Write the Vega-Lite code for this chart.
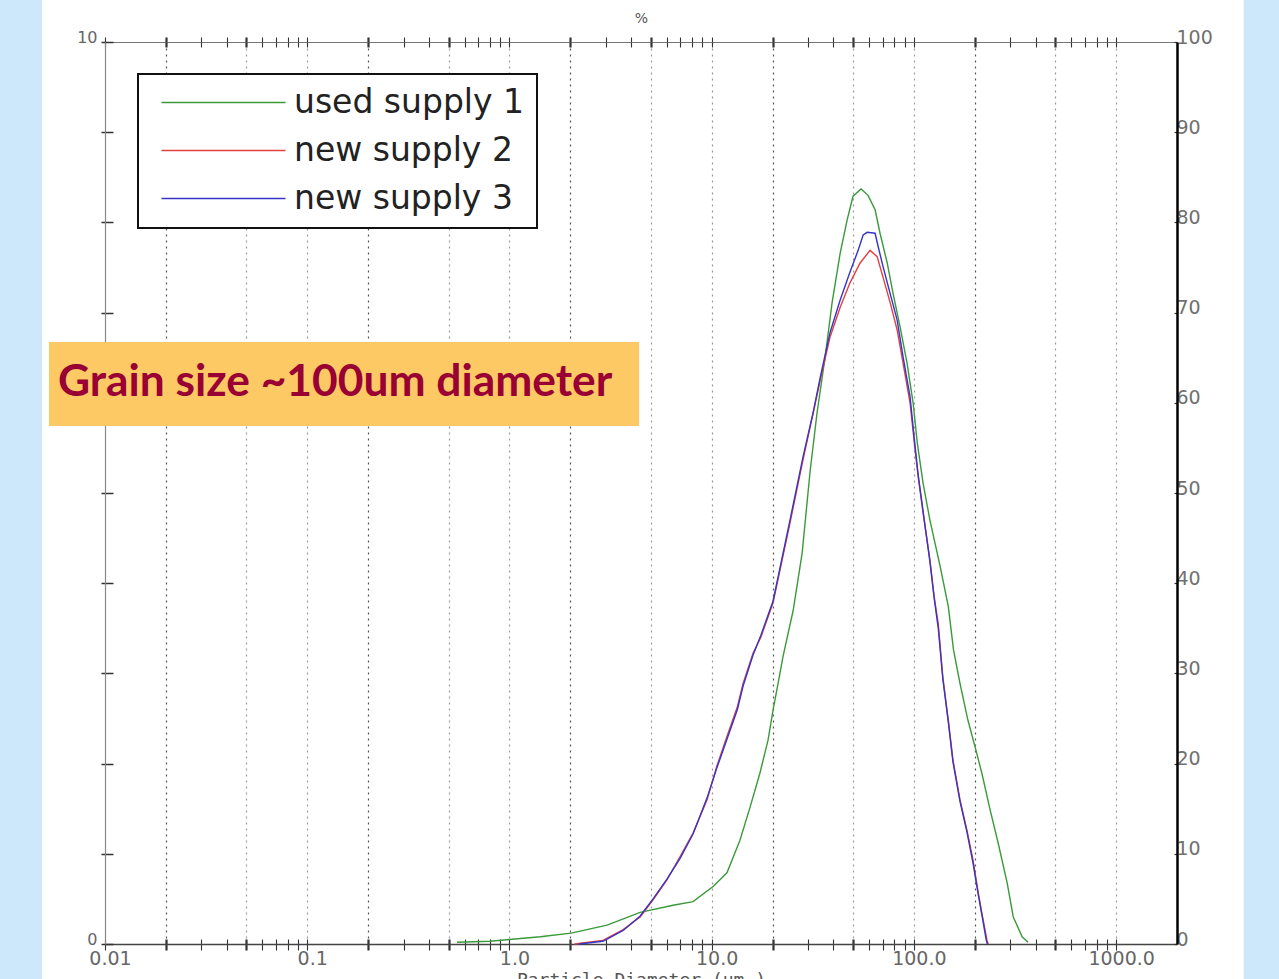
{
  "$schema": "https://vega.github.io/schema/vega-lite/v6.json",
  "width": 1072,
  "height": 902,
  "autosize": {"type": "none"},
  "padding": {"left": 105, "top": 42, "right": 102, "bottom": 35},
  "background": "white",
  "config": {"view": {"stroke": null}, "font": "DejaVu Sans"},
  "datasets": {
    "note": [{"note": "Grain size ~100um diameter"}],
    "psd": [
      {"s": "used supply 1", "d": 0.55, "v": 0.02},
      {"s": "used supply 1", "d": 0.8, "v": 0.03},
      {"s": "used supply 1", "d": 1.0, "v": 0.05},
      {"s": "used supply 1", "d": 1.42, "v": 0.08},
      {"s": "used supply 1", "d": 2.02, "v": 0.12},
      {"s": "used supply 1", "d": 3.04, "v": 0.21},
      {"s": "used supply 1", "d": 4.43, "v": 0.35},
      {"s": "used supply 1", "d": 6.44, "v": 0.43},
      {"s": "used supply 1", "d": 8.09, "v": 0.47},
      {"s": "used supply 1", "d": 10.2, "v": 0.64},
      {"s": "used supply 1", "d": 11.9, "v": 0.79},
      {"s": "used supply 1", "d": 13.8, "v": 1.15},
      {"s": "used supply 1", "d": 15.5, "v": 1.52},
      {"s": "used supply 1", "d": 17.3, "v": 1.89},
      {"s": "used supply 1", "d": 19.0, "v": 2.26},
      {"s": "used supply 1", "d": 20.1, "v": 2.59},
      {"s": "used supply 1", "d": 21.3, "v": 2.89},
      {"s": "used supply 1", "d": 22.5, "v": 3.18},
      {"s": "used supply 1", "d": 25.3, "v": 3.70},
      {"s": "used supply 1", "d": 28.0, "v": 4.33},
      {"s": "used supply 1", "d": 30.7, "v": 5.25},
      {"s": "used supply 1", "d": 33.2, "v": 5.89},
      {"s": "used supply 1", "d": 36.4, "v": 6.51},
      {"s": "used supply 1", "d": 39.4, "v": 7.11},
      {"s": "used supply 1", "d": 43.2, "v": 7.66},
      {"s": "used supply 1", "d": 46.8, "v": 8.03},
      {"s": "used supply 1", "d": 50.0, "v": 8.29},
      {"s": "used supply 1", "d": 54.8, "v": 8.37},
      {"s": "used supply 1", "d": 59.3, "v": 8.30},
      {"s": "used supply 1", "d": 64.3, "v": 8.14},
      {"s": "used supply 1", "d": 68.0, "v": 7.88},
      {"s": "used supply 1", "d": 73.8, "v": 7.55},
      {"s": "used supply 1", "d": 78.9, "v": 7.21},
      {"s": "used supply 1", "d": 85.5, "v": 6.84},
      {"s": "used supply 1", "d": 92.5, "v": 6.44},
      {"s": "used supply 1", "d": 99.1, "v": 6.00},
      {"s": "used supply 1", "d": 104, "v": 5.55},
      {"s": "used supply 1", "d": 111, "v": 5.11},
      {"s": "used supply 1", "d": 120, "v": 4.70},
      {"s": "used supply 1", "d": 135, "v": 4.18},
      {"s": "used supply 1", "d": 148, "v": 3.74},
      {"s": "used supply 1", "d": 157, "v": 3.26},
      {"s": "used supply 1", "d": 169, "v": 2.89},
      {"s": "used supply 1", "d": 185, "v": 2.48},
      {"s": "used supply 1", "d": 201, "v": 2.18},
      {"s": "used supply 1", "d": 217, "v": 1.89},
      {"s": "used supply 1", "d": 238, "v": 1.49},
      {"s": "used supply 1", "d": 261, "v": 1.12},
      {"s": "used supply 1", "d": 289, "v": 0.68},
      {"s": "used supply 1", "d": 310, "v": 0.30},
      {"s": "used supply 1", "d": 343, "v": 0.08},
      {"s": "used supply 1", "d": 367, "v": 0.02},
      {"s": "new supply 2", "d": 2.1, "v": 0.0},
      {"s": "new supply 2", "d": 2.9, "v": 0.04},
      {"s": "new supply 2", "d": 3.65, "v": 0.16},
      {"s": "new supply 2", "d": 4.43, "v": 0.30},
      {"s": "new supply 2", "d": 5.13, "v": 0.49},
      {"s": "new supply 2", "d": 6.01, "v": 0.71},
      {"s": "new supply 2", "d": 6.98, "v": 0.97},
      {"s": "new supply 2", "d": 8.09, "v": 1.23},
      {"s": "new supply 2", "d": 9.49, "v": 1.60},
      {"s": "new supply 2", "d": 10.6, "v": 1.97},
      {"s": "new supply 2", "d": 11.9, "v": 2.30},
      {"s": "new supply 2", "d": 13.4, "v": 2.63},
      {"s": "new supply 2", "d": 14.3, "v": 2.89},
      {"s": "new supply 2", "d": 16.0, "v": 3.22},
      {"s": "new supply 2", "d": 17.5, "v": 3.40},
      {"s": "new supply 2", "d": 20.1, "v": 3.78},
      {"s": "new supply 2", "d": 24.4, "v": 4.67},
      {"s": "new supply 2", "d": 28.3, "v": 5.37},
      {"s": "new supply 2", "d": 31.8, "v": 5.89},
      {"s": "new supply 2", "d": 34.4, "v": 6.25},
      {"s": "new supply 2", "d": 38.5, "v": 6.73},
      {"s": "new supply 2", "d": 43.2, "v": 7.06},
      {"s": "new supply 2", "d": 48.3, "v": 7.33},
      {"s": "new supply 2", "d": 54.2, "v": 7.55},
      {"s": "new supply 2", "d": 60.7, "v": 7.69},
      {"s": "new supply 2", "d": 65.8, "v": 7.62},
      {"s": "new supply 2", "d": 70.4, "v": 7.39},
      {"s": "new supply 2", "d": 76.3, "v": 7.11},
      {"s": "new supply 2", "d": 82.6, "v": 6.81},
      {"s": "new supply 2", "d": 88.4, "v": 6.44},
      {"s": "new supply 2", "d": 95.7, "v": 6.00},
      {"s": "new supply 2", "d": 101, "v": 5.51},
      {"s": "new supply 2", "d": 105, "v": 5.18},
      {"s": "new supply 2", "d": 111, "v": 4.78},
      {"s": "new supply 2", "d": 120, "v": 4.26},
      {"s": "new supply 2", "d": 126, "v": 3.85},
      {"s": "new supply 2", "d": 132, "v": 3.55},
      {"s": "new supply 2", "d": 139, "v": 2.96},
      {"s": "new supply 2", "d": 148, "v": 2.48},
      {"s": "new supply 2", "d": 156, "v": 2.04},
      {"s": "new supply 2", "d": 169, "v": 1.60},
      {"s": "new supply 2", "d": 183, "v": 1.26},
      {"s": "new supply 2", "d": 196, "v": 0.93},
      {"s": "new supply 2", "d": 208, "v": 0.57},
      {"s": "new supply 2", "d": 217, "v": 0.34},
      {"s": "new supply 2", "d": 230, "v": 0.04},
      {"s": "new supply 2", "d": 233, "v": 0.0},
      {"s": "new supply 3", "d": 2.2, "v": 0.0},
      {"s": "new supply 3", "d": 2.9, "v": 0.03},
      {"s": "new supply 3", "d": 3.65, "v": 0.15},
      {"s": "new supply 3", "d": 4.43, "v": 0.31},
      {"s": "new supply 3", "d": 5.13, "v": 0.50},
      {"s": "new supply 3", "d": 6.01, "v": 0.72},
      {"s": "new supply 3", "d": 6.98, "v": 0.95},
      {"s": "new supply 3", "d": 8.09, "v": 1.22},
      {"s": "new supply 3", "d": 9.49, "v": 1.62},
      {"s": "new supply 3", "d": 10.6, "v": 1.95},
      {"s": "new supply 3", "d": 11.9, "v": 2.27},
      {"s": "new supply 3", "d": 13.4, "v": 2.60},
      {"s": "new supply 3", "d": 14.3, "v": 2.86},
      {"s": "new supply 3", "d": 16.0, "v": 3.20},
      {"s": "new supply 3", "d": 17.5, "v": 3.42},
      {"s": "new supply 3", "d": 20.1, "v": 3.80},
      {"s": "new supply 3", "d": 24.4, "v": 4.70},
      {"s": "new supply 3", "d": 28.3, "v": 5.40},
      {"s": "new supply 3", "d": 31.8, "v": 5.90},
      {"s": "new supply 3", "d": 34.4, "v": 6.28},
      {"s": "new supply 3", "d": 38.5, "v": 6.78},
      {"s": "new supply 3", "d": 43.2, "v": 7.14},
      {"s": "new supply 3", "d": 48.3, "v": 7.45},
      {"s": "new supply 3", "d": 53.0, "v": 7.69},
      {"s": "new supply 3", "d": 56.1, "v": 7.86},
      {"s": "new supply 3", "d": 58.7, "v": 7.89},
      {"s": "new supply 3", "d": 64.3, "v": 7.88},
      {"s": "new supply 3", "d": 66.6, "v": 7.73},
      {"s": "new supply 3", "d": 70.4, "v": 7.51},
      {"s": "new supply 3", "d": 76.3, "v": 7.21},
      {"s": "new supply 3", "d": 82.6, "v": 6.92},
      {"s": "new supply 3", "d": 88.4, "v": 6.51},
      {"s": "new supply 3", "d": 95.7, "v": 6.07},
      {"s": "new supply 3", "d": 101, "v": 5.55},
      {"s": "new supply 3", "d": 105, "v": 5.20},
      {"s": "new supply 3", "d": 111, "v": 4.80},
      {"s": "new supply 3", "d": 120, "v": 4.24},
      {"s": "new supply 3", "d": 126, "v": 3.83},
      {"s": "new supply 3", "d": 132, "v": 3.50},
      {"s": "new supply 3", "d": 139, "v": 2.94},
      {"s": "new supply 3", "d": 148, "v": 2.46},
      {"s": "new supply 3", "d": 156, "v": 2.02},
      {"s": "new supply 3", "d": 169, "v": 1.58},
      {"s": "new supply 3", "d": 183, "v": 1.24},
      {"s": "new supply 3", "d": 196, "v": 0.90},
      {"s": "new supply 3", "d": 208, "v": 0.55},
      {"s": "new supply 3", "d": 217, "v": 0.32},
      {"s": "new supply 3", "d": 228, "v": 0.04},
      {"s": "new supply 3", "d": 231, "v": 0.0}
    ]
  },
  "layer": [
    {
      "data": {"name": "note"},
      "mark": {"type": "rect", "fill": "#cce8fa"},
      "encoding": {
        "x": {"datum": 0.0005, "type": "quantitative",
          "scale": {"type": "log", "domain": [0.01, 2000], "nice": false},
          "axis": {"orient": "bottom", "values": [0.02,0.05,0.1,0.2,0.5,1,2,5,10,20,50,100,200,500,1000],
            "grid": true, "gridColor": {"condition": {"test": "abs(datum.value/pow(10,floor(log(datum.value)/LN10+1e-6))-2)<0.01", "value": "#555555"}, "value": "#9a9a9a"},
            "gridDash": [2, 4], "gridWidth": 1.2, "domain": false, "ticks": false, "labels": false, "title": null}},
        "x2": {"datum": 0.004881},
        "y": {"datum": -2, "type": "quantitative",
          "scale": {"domain": [0, 10], "nice": false, "zero": false},
          "axis": {"orient": "left", "values": [0,1,2,3,4,5,6,7,8,9,10], "tickSize": -8, "tickColor": "#333333", "tickWidth": 1.5, "labels": false, "domain": false, "grid": false, "title": null}},
        "y2": {"datum": 12}
      }
    },
    {
      "data": {"name": "note"},
      "mark": {"type": "rect", "fill": "#cce8fa"},
      "encoding": {
        "x": {"datum": 4272, "type": "quantitative",
          "scale": {"type": "log", "domain": [0.01, 2000], "nice": false},
          "axis": {"orient": "top", "values": [0.01,0.02,0.03,0.04,0.05,0.06,0.07,0.08,0.09,0.1,0.2,0.3,0.4,0.5,0.6,0.7,0.8,0.9,1,2,3,4,5,6,7,8,9,10,20,30,40,50,60,70,80,90,100,200,300,400,500,600,700,800,900,1000],
            "title": "%", "titleFont": "DejaVu Sans", "titleFontSize": 14, "titleFontWeight": "normal", "titleColor": "#555555", "titlePadding": 10,
            "labels": false, "domain": true, "domainColor": "#777777", "domainWidth": 1.2,
            "tickSize": 5, "tickColor": "#333333",
            "tickWidth": {"condition": {"test": "abs(datum.value/pow(10,floor(log(datum.value)/LN10+1e-6))-2)<0.01 || abs(datum.value/pow(10,floor(log(datum.value)/LN10+1e-6))-5)<0.01", "value": 2.2}, "value": 1.1},
            "grid": false}},
        "x2": {"datum": 1000000},
        "y": {"datum": -2, "type": "quantitative", "scale": {"domain": [0, 10], "nice": false, "zero": false}, "axis": null},
        "y2": {"datum": 12}
      }
    },
    {
      "data": {"name": "note"},
      "mark": {"type": "rect", "fill": "#fdc964"},
      "encoding": {
        "x": {"datum": 0.005284, "type": "quantitative",
          "scale": {"type": "log", "domain": [0.01, 2000], "nice": false},
          "axis": {"orient": "top", "values": [0.01,0.02,0.03,0.04,0.05,0.06,0.07,0.08,0.09,0.1,0.2,0.3,0.4,0.5,0.6,0.7,0.8,0.9,1,2,3,4,5,6,7,8,9,10,20,30,40,50,60,70,80,90,100,200,300,400,500,600,700,800,900,1000],
            "title": null, "labels": false, "domain": false, "tickSize": -5, "tickColor": "#333333",
            "tickWidth": {"condition": {"test": "abs(datum.value/pow(10,floor(log(datum.value)/LN10+1e-6))-2)<0.01 || abs(datum.value/pow(10,floor(log(datum.value)/LN10+1e-6))-5)<0.01", "value": 2.2}, "value": 1.1},
            "grid": false}},
        "x2": {"datum": 4.375},
        "y": {"datum": 5.743, "type": "quantitative", "scale": {"domain": [0, 10], "nice": false, "zero": false}, "axis": null},
        "y2": {"datum": 6.674}
      }
    },
    {
      "data": {"name": "note"},
      "mark": {"type": "text", "font": "Lato", "fontWeight": "bold", "fontSize": 44.3, "color": "#990033", "align": "left", "baseline": "alphabetic"},
      "encoding": {
        "x": {"datum": 0.005857, "type": "quantitative",
          "scale": {"type": "log", "domain": [0.01, 2000], "nice": false},
          "axis": {"orient": "bottom", "values": [0.01,0.02,0.03,0.04,0.05,0.06,0.07,0.08,0.09,0.1,0.2,0.3,0.4,0.5,0.6,0.7,0.8,0.9,1,2,3,4,5,6,7,8,9,10,20,30,40,50,60,70,80,90,100,200,300,400,500,600,700,800,900,1000],
            "title": null, "labels": false, "domain": false, "tickSize": -5, "tickColor": "#333333",
            "tickWidth": {"condition": {"test": "abs(datum.value/pow(10,floor(log(datum.value)/LN10+1e-6))-2)<0.01 || abs(datum.value/pow(10,floor(log(datum.value)/LN10+1e-6))-5)<0.01", "value": 2.2}, "value": 1.1},
            "grid": false}},
        "y": {"datum": 6.075, "type": "quantitative", "scale": {"domain": [0, 10], "nice": false, "zero": false}, "axis": null},
        "text": {"field": "note", "type": "nominal"}
      }
    },
    {
      "data": {"name": "psd"},
      "mark": {"type": "line", "strokeWidth": 1.4},
      "encoding": {
        "x": {"field": "d", "type": "quantitative",
          "scale": {"type": "log", "domain": [0.01, 2000], "nice": false},
          "axis": {"orient": "bottom", "values": [0.01,0.02,0.03,0.04,0.05,0.06,0.07,0.08,0.09,0.1,0.2,0.3,0.4,0.5,0.6,0.7,0.8,0.9,1,2,3,4,5,6,7,8,9,10,20,30,40,50,60,70,80,90,100,200,300,400,500,600,700,800,900,1000],
            "title": "Particle Diameter (µm.)", "titleFont": "DejaVu Sans Mono", "titleFontSize": 18, "titleFontWeight": "normal", "titleColor": "#555555", "titlePadding": 3,
            "labelExpr": "datum.value == 0.01 ? '0.01' : datum.value == 0.1 ? '0.1' : datum.value == 1 ? '1.0' : datum.value == 10 ? '10.0' : datum.value == 100 ? '100.0' : datum.value == 1000 ? '1000.0' : ''",
            "labelFont": "DejaVu Sans", "labelFontSize": 19, "labelColor": "#666666", "labelFlush": false, "labelOverlap": false, "labelBound": false, "labelPadding": -1, "labelOffset": 5,
            "domain": true, "domainColor": "#444444", "domainWidth": 1.5,
            "tickSize": 6, "tickColor": "#333333",
            "tickWidth": {"condition": {"test": "abs(datum.value/pow(10,floor(log(datum.value)/LN10+1e-6))-2)<0.01 || abs(datum.value/pow(10,floor(log(datum.value)/LN10+1e-6))-5)<0.01", "value": 2.2}, "value": 1.1},
            "grid": false}},
        "y": {"field": "v", "type": "quantitative",
          "scale": {"domain": [0, 10], "nice": false, "zero": false},
          "axis": {"orient": "left", "values": [0,1,2,3,4,5,6,7,8,9,10],
            "labelExpr": "datum.value == 0 || datum.value == 10 ? datum.label : ''",
            "labelFont": "DejaVu Sans", "labelFontSize": 16, "labelColor": "#666666", "labelFlush": false, "labelOverlap": false, "labelBaseline": "alphabetic", "labelOffset": 0, "labelPadding": 4,
            "tickSize": 4, "tickColor": "#333333", "tickWidth": 1.5, "domain": true, "domainColor": "#888888", "domainWidth": 1.2, "grid": false, "title": null}},
        "color": {"field": "s", "type": "nominal",
          "scale": {"domain": ["used supply 1", "new supply 2", "new supply 3"], "range": ["#3a9a3a", "#e4403f", "#3535c8"]},
          "legend": {"orient": "none", "legendX": 33, "legendY": 32, "title": null,
            "symbolType": "M-31,0H31", "symbolSize": 16, "symbolStrokeWidth": 1.6, "symbolOffset": 57,
            "labelOffset": 54, "labelFont": "DejaVu Sans", "labelFontSize": 33, "labelColor": "#222222", "labelLimit": 500,
            "padding": 12, "rowPadding": 14, "strokeColor": "#111111", "fillColor": "white",
            "encode": {"legend": {"update": {"strokeWidth": {"value": 2}}}}}}
      }
    },
    {
      "data": {"name": "note"},
      "mark": {"type": "rule", "opacity": 0},
      "encoding": {
        "y": {"datum": 0, "type": "quantitative",
          "scale": {"domain": [0, 100], "nice": false, "zero": false},
          "axis": {"orient": "right", "values": [0,10,20,30,40,50,60,70,80,90,100],
            "labelFont": "DejaVu Sans", "labelFontSize": 19, "labelColor": "#707070", "labelFlush": false, "labelOverlap": false, "labelBaseline": "middle", "labelOffset": -5, "labelPadding": 2,
            "tickSize": -3, "tickColor": "#333333", "tickWidth": 1.2, "domain": true, "domainColor": "#000000", "domainWidth": 2.5, "grid": false, "title": null}}
      }
    }
  ],
  "resolve": {"scale": {"y": "independent"}, "axis": {"x": "independent", "y": "independent"}}
}
